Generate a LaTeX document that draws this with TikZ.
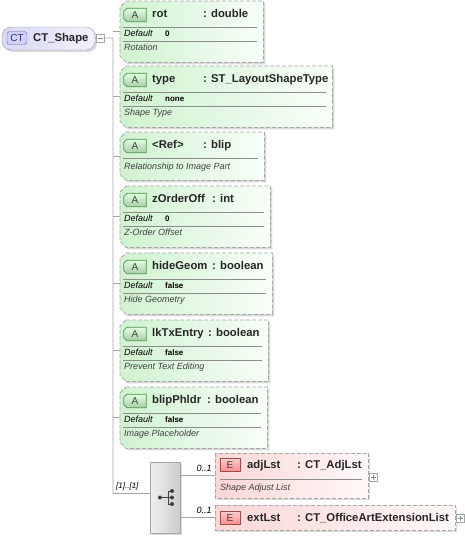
\documentclass[tikz,border=0pt]{standalone}
\usepackage{fontspec}
\setmainfont{Liberation Sans}
\usetikzlibrary{shadows,calc}

\definecolor{attrgreen}{HTML}{D0F2D0}
\definecolor{attrpale}{HTML}{F8FEF8}
\definecolor{elempink}{HTML}{FAD6D6}
\definecolor{elempale}{HTML}{FFF8F8}
\definecolor{rootblue}{HTML}{D8D8F4}
\definecolor{framegray}{HTML}{A8A8A8}
\definecolor{linkgray}{HTML}{A4A4A4}

\tikzset{
	link/.style={draw=linkgray, line width=.8pt},
	sepline/.style={draw=black!45, line width=.6pt},
	frame/.style={draw=framegray, dash pattern=on 4pt off 2pt, line width=.8pt},
	shade/.style={drop shadow={shadow xshift=2pt, shadow yshift=-2pt, fill=black!15, opacity=1}},
	title/.style={anchor=west, inner sep=0pt, text height=8pt, text depth=2pt, font=\fontsize{11.3}{13}\selectfont\bfseries, text=black!85},
	small/.style={anchor=west, inner sep=0pt, text height=6.5pt, text depth=2pt, font=\fontsize{9}{11}\selectfont\itshape},
	value/.style={anchor=west, inner sep=0pt, text height=6pt, text depth=1.5pt, font=\fontsize{8}{10}\selectfont\bfseries},
	badgebox/.style={minimum width=22, minimum height=13, inner sep=0pt},
	badgetext/.style={inner sep=0pt, font=\fontsize{10}{12}\selectfont, text=black!75},
	afill/.style={draw=green!40!black!70, line width=.7pt, top color=green!12, bottom color=green!45!black!35!white},
	ebadge/.style={draw=red!45!black!70, top color=red!20, bottom color=red!45, minimum width=20, minimum height=13, inner sep=0pt, font=\fontsize{10}{12}\selectfont, text=black!75},
	plusbox/.style={draw=black!35, fill=white, minimum size=8, inner sep=0pt,
		path picture={\draw[black!45] ([yshift=-1.5pt]path picture bounding box.north) -- ([yshift=1.5pt]path picture bounding box.south)
			([xshift=1.5pt]path picture bounding box.west) -- ([xshift=-1.5pt]path picture bounding box.east);}},
	minusbox/.style={draw=black!35, fill=white, minimum size=8, inner sep=0pt,
		path picture={\draw[black!45] ([xshift=1.5pt]path picture bounding box.west) -- ([xshift=-1.5pt]path picture bounding box.east);}},
}

% attribute frame: id, top, right, height, name
\newcommand\attrframe[5]{%
	\node[inner sep=0pt, minimum width=#3-120, minimum height=#4, anchor=north west] (#1) at (120,#2) {};
	\path[frame, shade, left color=attrgreen, right color=attrpale]
		([xshift=6pt]#1.north west) -- (#1.north east) -- (#1.south east)
		-- ([xshift=6pt]#1.south west) -- ([yshift=6pt]#1.south west)
		-- ([yshift=-6pt]#1.north west) -- cycle;
	\node[badgebox] (#1-badge) at ($(#1.north west)+(15,14)$) {};
	\path[afill] ([xshift=3pt]#1-badge.north west) -- (#1-badge.north east) -- (#1-badge.south east)
		-- ([xshift=3pt]#1-badge.south west) -- ([yshift=3pt]#1-badge.south west)
		-- ([yshift=-3pt]#1-badge.north west) -- cycle;
	\node[badgetext] at (#1-badge) {A};
	\node[title] (#1-name) at ($(#1.north west)+(32,13)$) {#5};
	\draw[sepline] ($(#1.north west)+(3,26.5)$) -- ($(#1.north east)+(-6,26.5)$);
}
% attribute: id, top, right, name, type x, type, default, description
\newcommand\attrbox[8]{%
	\attrframe{#1}{#2}{#3}{61}{#4}
	\node[title] (#1-type) at (#5,#2+13) {#6};
	\node[small] (#1-deflabel) at ($(#1.north west)+(4,33)$) {Default};
	\node[value] (#1-default) at ($(#1.north west)+(45,33)$) {#7};
	\draw[sepline] ($(#1.north west)+(3,40.5)$) -- ($(#1.north east)+(-6,40.5)$);
	\node[small, text=black!75] (#1-desc) at ($(#1.north west)+(4,47)$) {#8};
}
% element: id, top, right, height, title row, name, type
\newcommand\elembox[7]{%
	\node[inner sep=0pt, minimum width=#3-215, minimum height=#4, anchor=north west] (#1) at (215,#2) {};
	\path[frame, shade, left color=elempink, right color=elempale] (#1.north west) rectangle (#1.south east);
	\node[ebadge] (#1-badge) at (230,#2+#5) {E};
	\node[title] (#1-name) at (247,#2+#5) {#6};
	\node[title] (#1-type) at (297,#2+#5) {#7};
}

\begin{document}
\begin{tikzpicture}[x=1pt, y=-1pt]
	\useasboundingbox (0,0) rectangle (465,538);

	% root type
	\node[draw=blue!25!black!40, rounded corners=9pt, left color=rootblue, right color=rootblue!35!white, shade,
		minimum width=93, minimum height=23, inner sep=0pt] (root) at (48.5,38.5) {};
	\node[draw=blue!40!black!60, fill=blue!18, rounded corners=3pt, minimum width=20, minimum height=13, inner sep=0pt,
		font=\fontsize{10}{12}\selectfont, text=blue!25!black!80] (root-badge) at (17,38) {CT};
	\node[title] (root-name) at (33,38) {CT\_Shape};
	\node[minusbox] (root-minus) at (100,38) {};

	% attributes
	\attrbox{rot}{1}{263}{rot}{203}{: double}{0}{Rotation}
	\attrbox{type}{66}{332}{type}{203}{: ST\_LayoutShapeType}{none}{Shape Type}
	\attrframe{ref}{132}{264}{48}{<Ref>}
	\node[title] (ref-type) at (203,145) {: blip};
	\node[small, text=black!75] (ref-desc) at ($(ref.north west)+(4,35.5)$) {Relationship to Image Part};
	\attrbox{zorder}{186}{270}{zOrderOff}{212}{: int}{0}{Z-Order Offset}
	\attrbox{hide}{253}{272}{hideGeom}{212}{: boolean}{false}{Hide Geometry}
	\attrbox{lktx}{320}{268}{lkTxEntry}{208}{: boolean}{false}{Prevent Text Editing}
	\attrbox{blip}{387}{267}{blipPhldr}{207}{: boolean}{false}{Image Placeholder}

	% sequence
	\node[draw=black!35, left color=black!6, right color=black!20, shade, minimum width=30, minimum height=71, inner sep=0pt] (seq) at (165,497.5) {};
	\draw[black!75, line width=.8pt] ($(seq)+(-5,0)$) -- ($(seq)+(3,0)$) ($(seq)+(3,-6.5)$) -- ($(seq)+(3,6.5)$);
	\fill[black!75] ($(seq)+(-5,0)$) circle (2pt);
	\foreach \dy in {-6.5,0,6.5}{
		\draw[black!75, line width=.8pt] ($(seq)+(3,\dy)$) -- ($(seq)+(7,\dy)$);
		\fill[black!75] ($(seq)+(7,\dy)$) circle (2pt);
	}

	% elements
	\elembox{adj}{453}{368}{45}{12}{adjLst}{: CT\_AdjLst}
	\draw[sepline] ($(adj.north west)+(5,26)$) -- ($(adj.north east)+(-6,26)$);
	\node[small, text=black!75] (adj-desc) at ($(adj.north west)+(5,35)$) {Shape Adjust List};
	\node[plusbox] (adj-plus) at (373,477) {};
	\elembox{ext}{505}{455}{25}{13}{extLst}{: CT\_OfficeArtExtensionList}
	\node[plusbox] (ext-plus) at (460,518) {};

	% connectors
	\coordinate (t0) at (113,38);
	\coordinate (t1) at (113,493);
	\draw[link] (root.east) -- (root-minus.west) (root-minus.east) -- (t0) -- (t1);
	\foreach \b in {rot,type,ref,zorder,hide,lktx,blip}
		\draw[link] (t0 |- \b.west) -- (\b.west);
	\draw[link] (t1) -- (t1 -| seq.west);
	\node[small, font=\fontsize{8}{10}\selectfont\itshape, anchor=south west] (seq-card) at ([xshift=3pt, yshift=2pt]t1) {[1]..[1]};
	\draw[link] (seq.east |- adj.west) -- (adj.west) node[small, pos=1, anchor=south east, xshift=-3pt, yshift=2pt] {0..1};
	\draw[link] (seq.east |- ext.west) -- (ext.west) node[small, pos=1, anchor=south east, xshift=-3pt, yshift=2pt] {0..1};
\end{tikzpicture}
\end{document}
